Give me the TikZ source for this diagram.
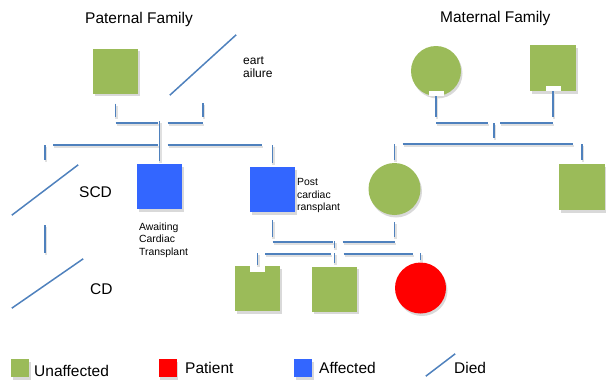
\documentclass[tikz,border=0pt]{standalone}
\usepackage{fontspec}
\setmainfont{Liberation Sans}
\usetikzlibrary{shadows,calc}

\definecolor{unaffgreen}{HTML}{9BBB59}
\definecolor{affblue}{HTML}{3366FF}
\definecolor{linkblue}{HTML}{4F81BD}

\newcommand{\bigtxt}{\fontsize{15.5}{18}\selectfont}
\newcommand{\smalltxt}{\fontsize{10.4}{12.5}\selectfont}

\begin{document}
\begin{tikzpicture}[x=1pt,y=-1pt,
    person/.style={inner sep=0, drop shadow={shadow xshift=1.5pt,shadow yshift=-2.5pt,opacity=.3}},
    male/.style={person, rectangle, minimum size=45pt},
    female/.style={person, circle, minimum size=51pt},
    unaffected/.style={fill=unaffgreen},
    affected/.style={fill=affblue},
    patient/.style={fill=red},
    died/.style={inner sep=0},
    deathline/.style={draw=linkblue, line width=1.5pt},
    link/.style={draw=linkblue, line width=1.5pt,
        preaction={draw=black!12, line width=2.5pt, transform canvas={xshift=1pt,yshift=-2pt}}},
    notch/.style={fill=white},
    lbl/.style={inner sep=0, anchor=base west, font=\bigtxt},
    note/.style={inner sep=0, anchor=north west, align=left, font=\smalltxt}
  ]
  \useasboundingbox (0,0) rectangle (606,383);
  \clip (0,0) rectangle (606,383);

  \node[lbl] (patT) at (85,23) {Paternal Family};
  \node[lbl] (matT) at (440,22) {Maternal Family};

  % grandparents
  \node[male, unaffected] (pgf) at (115.5,71) {};
  \node[died, minimum width=66pt, minimum height=60pt] (pgm) at (203,65) {};
  \node[note, font=\fontsize{12}{13.5}\selectfont] (hf) at (243,56.5) {eart\\ailure};
  \node[female, unaffected, minimum size=50pt] (mgm) at (436,71) {};
  \node[male, unaffected, minimum size=46pt] (mgf) at (553,68) {};

  % parents and siblings
  \node[died, minimum width=66pt, minimum height=50pt] (scd) at (45,190) {};
  \node[lbl] (scdT) at (79,197) {SCD};
  \node[died, minimum width=71pt, minimum height=49pt] (cd) at (47.5,283.5) {};
  \node[lbl] (cdT) at (90,294) {CD};
  \node[male, affected] (aff1) at (159.5,186.5) {};
  \node[note] (aff1T) at (139,222.5) {Awaiting\\Cardiac\\Transplant};
  \node[male, affected] (aff2) at (272.5,189.5) {};
  \node[note] (aff2T) at (297,178.5) {Post\\cardiac\\ransplant};
  \node[female, unaffected, minimum size=52pt] (mom) at (394.5,189) {};
  \node[male, unaffected, minimum size=46pt] (unc) at (582,187) {};

  % children
  \node[male, unaffected] (kid1) at (257.5,288.5) {};
  \node[male, unaffected] (kid2) at (334.5,289) {};
  \node[female, patient] (pat) at (420.5,288) {};

  % key
  \node[male, unaffected, minimum size=18pt] (keyU) at (20,368) {};
  \node[lbl] (keyUT) at (34,376) {Unaffected};
  \node[male, patient, minimum size=18pt] (keyP) at (167.5,368) {};
  \node[lbl] (keyPT) at (185,373) {Patient};
  \node[male, affected, minimum size=18pt] (keyA) at (303,368) {};
  \node[lbl] (keyAT) at (319,373) {Affected};
  \node[died, minimum width=29pt, minimum height=22pt] (keyD) at (440.5,365) {};
  \node[lbl] (keyDT) at (454,373) {Died};

  \foreach \p in {pgm,scd,cd,keyD}
    \draw[deathline] (\p.south west) -- (\p.north east);

  \fill[notch] ($(mgm.south)+(-7.5,-5)$) rectangle ++(15,5);
  \fill[notch] ($(mgf.south)+(-7.5,-5)$) rectangle ++(15,5);
  \fill[notch] ($(kid1.north)+(-7.5,0)$) rectangle ++(15,6);

  \coordinate (pM) at (159.5,123);
  \coordinate (pS) at (159.5,145);
  \coordinate (mM) at (494,123);
  \coordinate (mS) at (494,144);
  \coordinate (cM) at (334.5,242);
  \coordinate (kS) at (334.5,254);

  % paternal side
  \draw[link, shorten <=10pt, shorten >=6pt] (pgf.south) -- (pgf.south |- pM);
  \draw[link, shorten <=8pt, shorten >=6pt] (pgm.south) -- (pgm.south |- pM);
  \draw[link, shorten >=2pt] (pgf.south |- pM) -- (pM);
  \draw[link, shorten <=8pt] (pM) -- (pgm.south |- pM);
  \draw[link, shorten <=-2pt, shorten >=3pt] (pM) -- (aff1.north);
  \draw[link, shorten <=8pt, shorten >=2pt] (scd.north |- pS) -- (pS);
  \draw[link, shorten <=8pt, shorten >=11pt] (pS) -- (aff2.north |- pS);
  \draw[link, shorten >=5pt] (scd.north |- pS) -- (scd.north);
  \draw[link, shorten >=4pt] (aff2.north |- pS) -- (aff2.north);
  \draw[link, shorten <=10pt, shorten >=6pt] (scd.south) -- (cd.north -| scd.south);

  % maternal side
  \draw[link, shorten >=6pt] (mgm.south) -- (mgm.south |- mM);
  \draw[link, shorten >=6pt] (mgf.south) -- (mgf.south |- mM);
  \draw[link, shorten >=6pt] (mgm.south |- mM) -- (mM);
  \draw[link, shorten <=6pt] (mM) -- (mgf.south |- mM);
  \draw[link, shorten >=6pt] (mM) -- (mS);
  \draw[link, shorten <=8pt, shorten >=9pt] (mom.north |- mS) -- (unc.north |- mS);
  \draw[link, shorten >=3pt] (mom.north |- mS) -- (mom.north);
  \draw[link, shorten >=4pt] (unc.north |- mS) -- (unc.north);

  % parents and children
  \draw[link, shorten <=8pt, shorten >=5pt] (aff2.south) -- (aff2.south |- cM);
  \draw[link, shorten <=7pt, shorten >=5pt] (mom.south) -- (mom.south |- cM);
  \draw[link, shorten >=2pt] (aff2.south |- cM) -- (cM);
  \draw[link, shorten <=8pt] (cM) -- (mom.south |- cM);
  \draw[link, shorten <=-1pt, shorten >=6pt] (cM) -- (kS);
  \draw[link, shorten <=-1pt, shorten >=3.5pt] (kS) -- (kid2.north);
  \draw[link, shorten <=7.5pt, shorten >=4pt] (kid1.north |- kS) -- (kS);
  \draw[link, shorten <=9pt, shorten >=7.5pt] (kS) -- (pat.north |- kS);
  \draw[link, shorten <=-1pt, shorten >=1pt] (kid1.north |- kS) -- (kid1.north);
  \draw[link, shorten <=-1pt, shorten >=2.5pt] (pat.north |- kS) -- (pat.north);
\end{tikzpicture}
\end{document}
